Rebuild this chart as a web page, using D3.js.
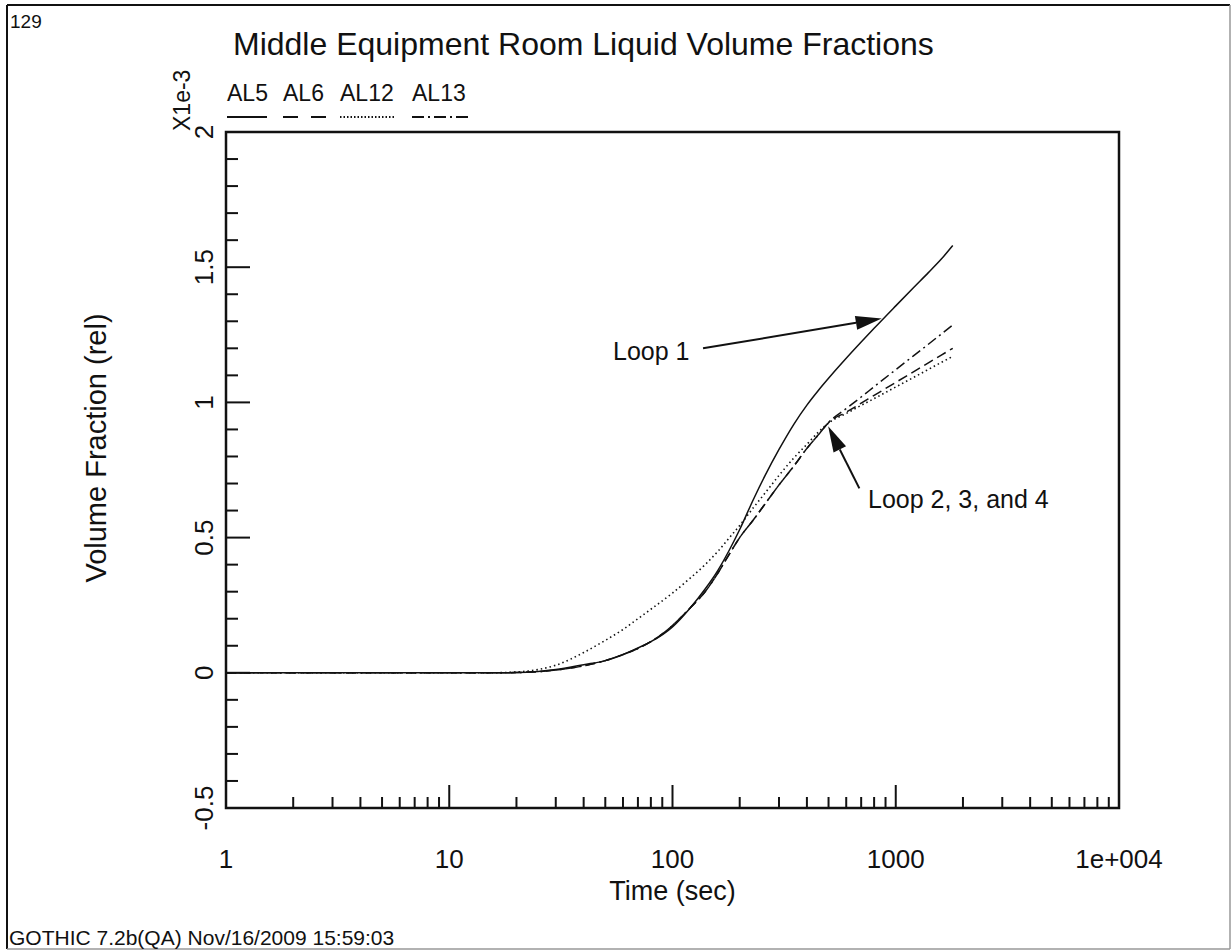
<!DOCTYPE html>
<html>
<head>
<meta charset="utf-8">
<script src="https://cdn.jsdelivr.net/npm/d3@7"></script>
<style>
  html, body { margin: 0; padding: 0; background: #fff; }
  svg { display: block; font-family: "Liberation Sans", Arial, sans-serif; }
</style>
</head>
<body>
<svg id="chart" width="1231" height="950"></svg>
<script>
// Time points (sec) shared by all series
const times = [1, 2, 5, 10, 15, 20, 25, 30, 40, 50, 60, 70, 80, 100, 120, 140, 160, 180, 200,
               230, 260, 300, 350, 400, 450, 500, 600, 700, 800, 1000, 1200, 1400, 1600, 1800];

// Liquid volume fractions (x1e-3)
const al5  = [0, 0, 0, 0, 0, 0.001, 0.005, 0.012, 0.03, 0.045, 0.068, 0.092, 0.115, 0.17, 0.24, 0.31,
              0.38, 0.455, 0.53, 0.64, 0.73, 0.826, 0.92, 0.99, 1.044, 1.089, 1.163, 1.223, 1.274,
              1.357, 1.424, 1.48, 1.53, 1.58];
const al6  = [0, 0, 0, 0, 0, 0.001, 0.004, 0.01, 0.026, 0.045, 0.067, 0.09, 0.115, 0.175, 0.24, 0.3,
              0.37, 0.44, 0.5, 0.565, 0.625, 0.695, 0.765, 0.83, 0.88, 0.925, 0.964, 0.997, 1.026,
              1.074, 1.113, 1.146, 1.175, 1.2];
const al12 = [0, 0, 0, 0, 0, 0.003, 0.012, 0.028, 0.075, 0.12, 0.16, 0.2, 0.235, 0.295, 0.35, 0.4,
              0.45, 0.5, 0.545, 0.61, 0.665, 0.73, 0.795, 0.845, 0.89, 0.924, 0.959, 0.989, 1.014,
              1.057, 1.092, 1.122, 1.148, 1.17];
const al13 = [0, 0, 0, 0, 0, 0.001, 0.004, 0.01, 0.026, 0.045, 0.067, 0.09, 0.115, 0.175, 0.24, 0.3,
              0.37, 0.44, 0.5, 0.565, 0.625, 0.695, 0.765, 0.83, 0.88, 0.926, 0.977, 1.02, 1.058,
              1.121, 1.172, 1.215, 1.253, 1.286];

const seriesNames = ["AL5", "AL6", "AL12", "AL13"];
const seriesValues = [al5, al6, al12, al13];

const xTickValues = [1, 10, 100, 1000, 10000];
const xTickLabels = ["1", "10", "100", "1000", "1e+004"];
const yTickValues = [-0.5, 0, 0.5, 1, 1.5, 2];
const yTickLabels = ["-0.5", "0", "0.5", "1", "1.5", "2"];

const dashStyles = {AL5: null, AL6: "10,5", AL12: "1.5,3", AL13: "10,4,2,4"};
const legendDash = {AL5: null, AL6: "15,13", AL12: "1.5,2", AL13: "12,4,2,4"};

const plot = {left: 226, right: 1119, top: 132, bottom: 808};
const INK = "#111";

const svg = d3.select("#chart");

const x = d3.scaleLog().domain([1, 10000]).range([plot.left, plot.right]);
const y = d3.scaleLinear().domain([-0.5, 2]).range([plot.bottom, plot.top]);

// page frame
svg.append("line").attr("x1", 7).attr("y1", 5).attr("x2", 7).attr("y2", 949)
  .attr("stroke", INK).attr("stroke-width", 2);
svg.append("line").attr("x1", 7).attr("y1", 5).attr("x2", 1230).attr("y2", 5)
  .attr("stroke", INK).attr("stroke-width", 2);
svg.append("line").attr("x1", 1230).attr("y1", 5).attr("x2", 1230).attr("y2", 949)
  .attr("stroke", "#999").attr("stroke-width", 1.5);
svg.append("line").attr("x1", 7).attr("y1", 949).attr("x2", 1230).attr("y2", 949)
  .attr("stroke", "#999").attr("stroke-width", 1.5);

// header texts
svg.append("text").attr("x", 10).attr("y", 28).attr("font-size", 19).attr("fill", INK).text("129");
svg.append("text").attr("x", 233).attr("y", 55).attr("font-size", 32).attr("fill", INK)
  .text("Middle Equipment Room Liquid Volume Fractions");

// legend
const legendX = [227, 283, 340, 412];
const legendW = [40, 45, 55, 56];
seriesNames.forEach((name, i) => {
  svg.append("text").attr("x", legendX[i]).attr("y", 101).attr("font-size", 23)
    .attr("fill", INK).text(name);
  svg.append("line").attr("x1", legendX[i]).attr("x2", legendX[i] + legendW[i])
    .attr("y1", 117).attr("y2", 117).attr("stroke", INK).attr("stroke-width", 2)
    .attr("stroke-dasharray", legendDash[name]);
});

// y axis ticks (inside the frame)
const yMinor = d3.range(-5, 21).map(d => d / 10);
svg.append("g").selectAll("line").data(yMinor).join("line")
  .attr("x1", plot.left).attr("x2", d => plot.left + (Math.abs(d * 2 - Math.round(d * 2)) < 1e-6 ? 24 : 12))
  .attr("y1", d => y(d)).attr("y2", d => y(d))
  .attr("stroke", INK).attr("stroke-width", 2);

yTickValues.forEach((v, i) => {
  svg.append("text")
    .attr("transform", `translate(213,${y(v)}) rotate(-90)`)
    .attr("text-anchor", "middle").attr("font-size", 26).attr("fill", INK)
    .text(yTickLabels[i]);
});
svg.append("text")
  .attr("transform", `translate(190,131) rotate(-90)`)
  .attr("text-anchor", "start").attr("font-size", 23).attr("fill", INK)
  .text("X1e-3");
svg.append("text")
  .attr("transform", `translate(106,448) rotate(-90)`)
  .attr("text-anchor", "middle").attr("font-size", 29).attr("fill", INK)
  .text("Volume Fraction (rel)");

// x axis ticks (inside the frame)
const xTicksAll = [];
for (let dec = 1; dec < 10000; dec *= 10) {
  for (let k = 1; k <= 9; k++) xTicksAll.push({v: dec * k, major: k === 1});
}
svg.append("g").selectAll("line").data(xTicksAll.filter(d => d.v > 1)).join("line")
  .attr("x1", d => x(d.v)).attr("x2", d => x(d.v))
  .attr("y1", plot.bottom).attr("y2", d => plot.bottom - (d.major ? 23 : 11))
  .attr("stroke", INK).attr("stroke-width", 2);

xTickValues.forEach((v, i) => {
  svg.append("text").attr("x", x(v)).attr("y", 868).attr("text-anchor", "middle")
    .attr("font-size", 26).attr("fill", INK).text(xTickLabels[i]);
});
svg.append("text").attr("x", (plot.left + plot.right) / 2).attr("y", 900)
  .attr("text-anchor", "middle").attr("font-size", 27).attr("fill", INK).text("Time (sec)");

svg.append("text").attr("x", 9).attr("y", 945).attr("font-size", 21).attr("fill", INK)
  .text("GOTHIC 7.2b(QA) Nov/16/2009 15:59:03");

// series curves
const line = d3.line()
  .x(d => x(d[0])).y(d => y(d[1]))
  .curve(d3.curveMonotoneX);

seriesNames.forEach((name, i) => {
  const pts = times.map((t, j) => [t, seriesValues[i][j]]);
  svg.append("path").datum(pts)
    .attr("d", line)
    .attr("fill", "none").attr("stroke", INK)
    .attr("stroke-width", name === "AL12" ? 1.6 : 1.5)
    .attr("stroke-dasharray", dashStyles[name]);
});

// plot frame
svg.append("rect").attr("x", plot.left).attr("y", plot.top)
  .attr("width", plot.right - plot.left).attr("height", plot.bottom - plot.top)
  .attr("fill", "none").attr("stroke", INK).attr("stroke-width", 2.5);

// annotations with arrows
function arrow(t0, v0, t1, v1) {
  const xa = x(t0), ya = y(v0), xb = x(t1), yb = y(v1);
  const ang = Math.atan2(yb - ya, xb - xa);
  const len = 26, half = 7;
  const bx = xb - len * Math.cos(ang), by = yb - len * Math.sin(ang);
  svg.append("line").attr("x1", xa).attr("y1", ya).attr("x2", bx).attr("y2", by)
    .attr("stroke", INK).attr("stroke-width", 2);
  const px = -Math.sin(ang) * half, py = Math.cos(ang) * half;
  svg.append("path")
    .attr("d", `M${xb},${yb}L${bx + px},${by + py}L${bx - px},${by - py}Z`)
    .attr("fill", INK);
}

svg.append("text").attr("x", 613).attr("y", y(1.158)).attr("font-size", 25)
  .attr("fill", INK).text("Loop 1");
arrow(137, 1.2, 865, 1.31);

svg.append("text").attr("x", x(751)).attr("y", y(0.61)).attr("font-size", 25)
  .attr("fill", INK).text("Loop 2, 3, and 4");
arrow(687, 0.682, 498, 0.912);
</script>
</body>
</html>
